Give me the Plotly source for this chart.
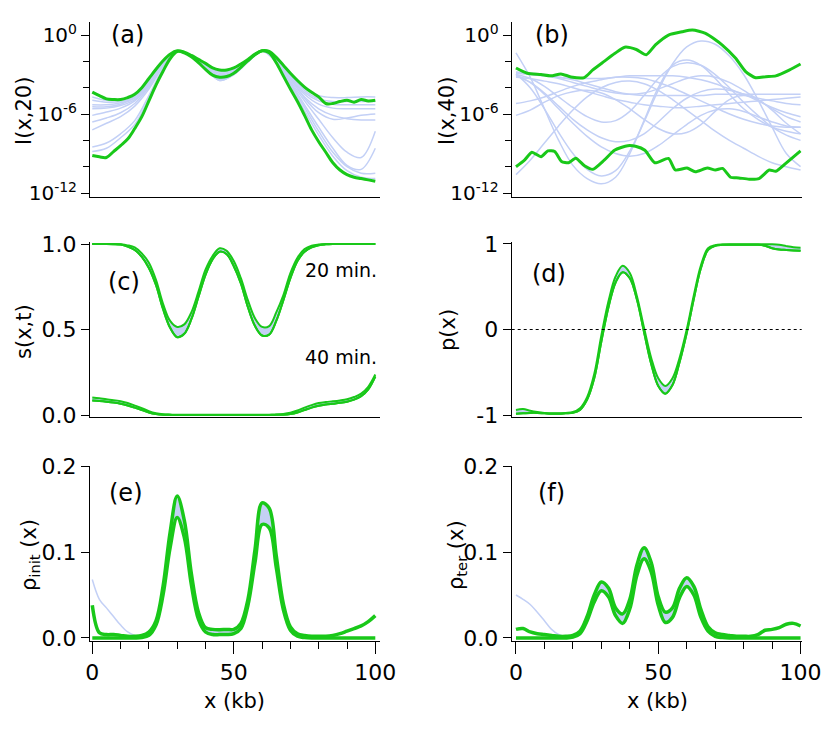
import plotly.graph_objects as go

# ---------------- data ----------------
X5 = [0, 5, 10, 15, 20, 25, 30, 35, 40, 45, 50, 55, 60, 65, 70, 75, 80, 85, 90, 95, 100]
X25 = [0, 2.5, 5, 7.5, 10, 12.5, 15, 17.5, 20, 22.5, 25, 27.5, 30, 32.5, 35, 37.5, 40, 42.5,
       45, 47.5, 50, 52.5, 55, 57.5, 60, 62.5, 65, 67.5, 70, 72.5, 75, 77.5, 80, 82.5, 85,
       87.5, 90, 92.5, 95, 97.5, 100]

# (a) I(x,20): log10 values
a_green_hi = [-4.33, -4.6, -4.85, -4.9, -4.9, -4.75, -4.5, -4.0, -3.3, -2.6, -1.95, -1.45, -1.2,
              -1.3, -1.55, -1.85, -2.15, -2.5, -2.65, -2.65, -2.5, -2.2, -1.85, -1.45, -1.2, -1.25,
              -1.7, -2.3, -2.9, -3.45, -3.95, -4.35, -4.7, -5.2, -5.2, -5.05, -4.95, -5.1, -4.9,
              -5.0, -4.95]
a_green_lo = [-9.15, -9.25, -9.3, -8.85, -8.4, -7.9, -7.1, -6.2, -5.0, -3.8, -2.75, -1.8, -1.25,
              -1.35, -1.65, -2.1, -2.6, -3.05, -3.2, -3.15, -2.9, -2.45, -1.95, -1.5, -1.2, -1.35,
              -2.1, -3.1, -4.1, -5.05, -6.1, -7.2, -8.1, -8.9, -9.7, -10.25, -10.6, -10.8, -10.9,
              -11.0, -11.1]
a_blue = [
    [-4.7, -4.95, -4.95, -4.55, -3.45, -2.05, -1.2, -1.55, -2.2, -2.7, -2.55, -1.9, -1.2, -1.75, -3.0, -4.05, -4.6, -4.75, -4.75, -4.7, -4.7],
    [-4.95, -5.1, -5.05, -4.65, -3.55, -2.1, -1.2, -1.58, -2.25, -2.8, -2.6, -1.92, -1.2, -1.8, -3.1, -4.2, -4.85, -5.05, -5.05, -5.05, -5.05],
    [-5.3, -5.3, -5.15, -4.75, -3.65, -2.15, -1.2, -1.6, -2.3, -2.9, -2.68, -1.95, -1.2, -1.8, -3.15, -4.35, -5.0, -5.25, -5.3, -5.3, -5.3],
    [-5.45, -5.45, -5.25, -4.8, -3.7, -2.2, -1.2, -1.6, -2.35, -3.0, -2.75, -1.95, -1.2, -1.85, -3.25, -4.5, -5.25, -5.55, -5.6, -5.6, -5.6],
    [-5.6, -5.55, -5.35, -4.9, -3.8, -2.25, -1.22, -1.62, -2.4, -3.1, -2.8, -1.97, -1.2, -1.9, -3.35, -4.7, -5.6, -6.1, -6.35, -6.45, -6.45],
    [-6.1, -5.85, -5.55, -5.0, -3.85, -2.3, -1.22, -1.62, -2.45, -3.2, -2.85, -2.0, -1.2, -1.95, -3.5, -5.0, -6.4, -7.8, -8.9, -9.3, -7.3],
    [-6.6, -6.3, -5.9, -5.2, -3.95, -2.35, -1.23, -1.65, -2.5, -3.3, -2.9, -2.0, -1.22, -2.0, -3.6, -5.3, -7.0, -8.6, -9.9, -10.2, -8.6],
    [-7.2, -6.7, -6.2, -5.4, -4.1, -2.4, -1.23, -1.65, -2.55, -3.4, -2.95, -2.02, -1.22, -2.05, -3.7, -5.5, -7.3, -8.9, -10.0, -10.5, -10.5],
    [-8.5, -8.2, -7.5, -6.5, -4.6, -2.55, -1.25, -1.65, -2.55, -3.45, -3.0, -2.05, -1.22, -2.1, -3.85, -5.75, -7.6, -9.2, -10.3, -10.8, -10.9],
    [-8.85, -8.6, -7.8, -6.8, -4.8, -2.6, -1.25, -1.65, -2.55, -3.45, -3.0, -2.05, -1.22, -1.9, -3.3, -4.8, -5.9, -6.4, -6.3, -6.1, -6.0],
]

# (b) I(x,40): log10 values
b_hi_x = [0, 4, 8.8, 12.3, 15.8, 19.3, 24, 27, 31, 34.8, 38.2, 42.3, 45.8, 49, 53.6, 58.4,
          62, 66.6, 72.5, 77.2, 80.7, 84.2, 87.8, 91.3, 96, 100]
b_hi = [-2.5, -2.9, -3.0, -3.1, -2.95, -3.18, -3.23, -2.65, -2.0, -1.39, -0.92, -1.1, -1.5,
        -0.75, 0.0, 0.25, 0.38, 0.13, -0.76, -1.77, -2.78, -3.24, -3.16, -3.1, -2.66, -2.2]
b_lo_x = [0, 3, 5.6, 8.8, 11.2, 13.6, 16, 18.5, 21, 24.2, 27, 31, 34.6, 39.3, 42, 45.3,
          48.8, 53.6, 56, 60.1, 63, 67.2, 70.1, 72.6, 75.4, 78.3, 81.9, 85.4, 89, 91.3,
          94.8, 100]
b_lo = [-10.0, -9.5, -8.9, -9.24, -8.8, -8.85, -9.6, -9.7, -9.35, -9.95, -10.2, -9.5, -8.75,
        -8.4, -8.45, -8.75, -9.7, -9.37, -10.25, -10.1, -10.38, -10.1, -10.25, -10.13, -10.8,
        -10.85, -10.95, -10.9, -10.25, -10.35, -9.75, -8.8]
b_blue = [
    [-1.35, -3.2, -5.6, -8.0, -9.9, -10.9, -11.3, -10.8, -9.0, -6.5, -4.0, -2.3, -1.9, -2.3, -3.3, -4.5, -5.6, -6.4, -7.0, -7.3, -7.5],
    [-2.8, -2.9, -3.0, -3.2, -3.4, -3.7, -4.0, -4.3, -4.5, -4.6, -4.6, -4.6, -4.6, -4.6, -4.5, -4.5, -4.5, -4.5, -4.5, -4.5, -4.5],
    [-2.9, -3.0, -3.1, -3.2, -3.3, -3.3, -3.3, -3.2, -3.1, -3.1, -3.1, -3.1, -3.2, -3.4, -3.7, -4.1, -4.5, -4.8, -5.0, -5.2, -5.3],
    [-3.0, -3.3, -3.9, -4.7, -5.5, -6.2, -6.6, -6.5, -5.8, -4.6, -3.3, -2.4, -2.1, -2.3, -3.0, -4.0, -5.1, -6.1, -7.0, -7.6, -8.0],
    [-3.1, -3.6, -4.4, -5.4, -6.4, -7.2, -7.8, -8.1, -8.0, -7.5, -6.6, -5.6, -4.8, -4.3, -4.1, -4.2, -4.5, -5.0, -5.5, -5.9, -6.2],
    [-3.2, -3.3, -3.5, -3.7, -4.0, -4.3, -4.6, -4.9, -5.1, -5.3, -5.4, -5.5, -5.5, -5.4, -5.3, -5.2, -5.1, -5.0, -4.9, -4.8, -4.7],
    [-5.2, -5.0, -4.7, -4.3, -3.9, -3.6, -3.4, -3.2, -3.2, -3.3, -3.6, -4.0, -4.5, -5.0, -5.5, -6.0, -6.4, -6.7, -6.9, -7.0, -7.0],
    [-6.1, -5.7, -5.1, -4.6, -4.3, -4.2, -4.4, -4.9, -5.6, -6.4, -7.1, -7.5, -7.4, -6.8, -5.8, -4.9, -4.6, -4.9, -5.7, -6.7, -7.5],
    [-10.6, -9.5, -8.2, -6.9, -5.7, -4.7, -4.0, -3.6, -3.5, -3.7, -4.2, -4.9, -5.7, -6.5, -7.3, -8.0, -8.6, -9.2, -9.7, -10.0, -10.25],
    [-2.95, -4.0, -5.6, -7.4, -9.0, -10.2, -10.7, -10.3, -8.8, -6.6, -4.2, -2.2, -0.9, -0.45, -0.7, -1.6, -3.0, -4.9, -7.0, -9.0, -10.0],
    [-3.05, -3.6, -4.5, -5.6, -6.7, -7.7, -8.5, -9.0, -9.2, -9.0, -8.4, -7.6, -6.8, -6.1, -5.7, -5.6, -5.8, -6.2, -6.6, -6.9, -7.0],
    [-2.85, -2.95, -3.1, -3.3, -3.6, -3.9, -4.2, -4.4, -4.5, -4.4, -4.1, -3.7, -3.3, -3.1, -3.2, -3.6, -4.2, -4.9, -5.6, -6.2, -6.6],
]

# (c) s(x,t)
c20_hi = [1.0, 1.0, 1.0, 1.0, 0.998, 0.992, 0.98, 0.945, 0.89, 0.79, 0.65, 0.55, 0.515, 0.53,
          0.6, 0.72, 0.85, 0.93, 0.975, 0.96, 0.9, 0.8, 0.67, 0.565, 0.515, 0.52, 0.6, 0.7,
          0.83, 0.92, 0.97, 0.99, 0.997, 1.0, 1.0, 1.0, 1.0, 1.0, 1.0, 1.0, 1.0]
c20_lo = [1.0, 1.0, 1.0, 0.999, 0.997, 0.985, 0.965, 0.925, 0.86, 0.76, 0.62, 0.51, 0.455,
          0.475, 0.56, 0.69, 0.82, 0.91, 0.955, 0.94, 0.87, 0.77, 0.63, 0.52, 0.465, 0.47,
          0.55, 0.67, 0.8, 0.9, 0.955, 0.98, 0.993, 0.998, 1.0, 1.0, 1.0, 1.0, 1.0, 1.0, 1.0]
c40_hi = [0.103, 0.098, 0.092, 0.087, 0.08, 0.07, 0.055, 0.04, 0.022, 0.01, 0.004, 0.002,
          0.001, 0.001, 0.001, 0.001, 0.001, 0.001, 0.001, 0.001, 0.001, 0.001, 0.001, 0.001,
          0.001, 0.002, 0.003, 0.006, 0.013, 0.026, 0.043, 0.058, 0.07, 0.076, 0.08, 0.085,
          0.092, 0.105, 0.125, 0.165, 0.237]
c40_lo = [0.085, 0.082, 0.078, 0.073, 0.066, 0.056, 0.043, 0.029, 0.015, 0.006, 0.002, 0.001,
          0.0, 0.0, 0.0, 0.0, 0.0, 0.0, 0.0, 0.0, 0.0, 0.0, 0.0, 0.0, 0.0, 0.0, 0.001, 0.002,
          0.006, 0.015, 0.029, 0.043, 0.054, 0.061, 0.066, 0.071, 0.078, 0.09, 0.11, 0.15, 0.225]

# (d) p(x)
d_hi = [-0.94, -0.93, -0.95, -0.965, -0.975, -0.98, -0.98, -0.975, -0.965, -0.92, -0.79,
        -0.52, -0.07, 0.33, 0.62, 0.745, 0.66, 0.39, 0.02, -0.33, -0.57, -0.66, -0.57, -0.33,
        0.0, 0.4, 0.75, 0.95, 0.985, 0.995, 0.998, 0.998, 0.998, 0.998, 0.998, 0.998, 0.996,
        0.99, 0.975, 0.962, 0.955]
d_lo = [-0.985, -0.98, -0.975, -0.975, -0.98, -0.985, -0.985, -0.98, -0.975, -0.94, -0.82,
        -0.57, -0.14, 0.26, 0.55, 0.67, 0.6, 0.35, -0.03, -0.4, -0.66, -0.75, -0.65, -0.38,
        -0.04, 0.36, 0.72, 0.93, 0.98, 0.99, 0.99, 0.99, 0.99, 0.99, 0.99, 0.98, 0.95, 0.935,
        0.93, 0.925, 0.92]

# (e) rho_init(x)
e_hi = [0.038, 0.006, 0.004, 0.004, 0.003, 0.002, 0.002, 0.003, 0.007, 0.02, 0.06, 0.123,
        0.165, 0.137, 0.075, 0.03, 0.012, 0.01, 0.0097, 0.01, 0.01, 0.017, 0.045, 0.103, 0.157,
        0.151, 0.096, 0.04, 0.013, 0.005, 0.003, 0.002, 0.002, 0.002, 0.003, 0.005, 0.008,
        0.011, 0.014, 0.019, 0.026]
e_lo = [0.0, 0.0, 0.0, 0.0, 0.0, 0.0, 0.0, 0.0005, 0.003, 0.015, 0.05, 0.105, 0.14, 0.117,
        0.062, 0.022, 0.007, 0.004, 0.004, 0.004, 0.005, 0.011, 0.038, 0.088, 0.132, 0.128,
        0.082, 0.033, 0.009, 0.002, 0.0005, 0.0, 0.0, 0.0, 0.0, 0.0, 0.0, 0.0, 0.0, 0.0, 0.0]
e_blue_x = [0, 2.5, 5, 7.5, 10, 12.5, 15, 17.5]
e_blue = [0.068, 0.045, 0.035, 0.025, 0.015, 0.007, 0.003, 0.002]

# (f) rho_ter(x)
f_hi = [0.01, 0.011, 0.007, 0.005, 0.004, 0.003, 0.002, 0.002, 0.003, 0.008, 0.025, 0.05,
        0.065, 0.058, 0.035, 0.028, 0.045, 0.085, 0.105, 0.088, 0.048, 0.03, 0.035, 0.058,
        0.07, 0.06, 0.033, 0.013, 0.006, 0.004, 0.003, 0.002, 0.002, 0.002, 0.004, 0.009,
        0.01, 0.012, 0.016, 0.017, 0.014]
f_lo = [0.0, 0.0, 0.0, 0.0, 0.0, 0.0, 0.0, 0.0, 0.001, 0.005, 0.02, 0.042, 0.055, 0.048,
        0.026, 0.017, 0.034, 0.073, 0.092, 0.077, 0.038, 0.018, 0.024, 0.047, 0.06, 0.05,
        0.024, 0.008, 0.002, 0.0005, 0.0, 0.0, 0.0, 0.0, 0.0, 0.0, 0.0, 0.0, 0.0, 0.0, 0.0]
f_blue_x = [0, 2.5, 5, 7.5, 10, 12.5, 15, 17.5]
f_blue = [0.05, 0.045, 0.039, 0.03, 0.02, 0.01, 0.004, 0.002]

LOG_TICKS = [1e-12, 1e-6, 1]
LOG_TEXT = ["10<sup>-12</sup>", "10<sup>-6</sup>", "10<sup>0</sup>"]
LOG_MINOR = [1e-10, 1e-8, 1e-4, 1e-2]

# ---------------- style ----------------
GREEN = "#19c819"
LBLUE = "#c3d0f6"
FILL = "rgba(196,208,244,1)"
FONT = "DejaVu Sans"
TICKSIZE = 22
LOGTICKSIZE = 20

fig = go.Figure()


def line(x, y, ax, color, width, fill=None, smoothing=1.0):
    fig.add_trace(go.Scatter(
        x=x, y=y, mode="lines", xaxis="x" + ax, yaxis="y" + ax,
        line=dict(color=color, width=width, shape="spline", smoothing=smoothing),
        fill=fill, fillcolor=FILL if fill else None, hoverinfo="skip"))


def pow10(v):
    return [10 ** t for t in v]


# (a)
for c in a_blue:
    line(X5, pow10(c), "1", LBLUE, 1.5)
line(X25, pow10(a_green_hi), "1", GREEN, 3)
line(X25, pow10(a_green_lo), "1", GREEN, 3)

# (b)
for c in b_blue:
    line(X5, pow10(c), "2", LBLUE, 1.5)
line(b_hi_x, pow10(b_hi), "2", GREEN, 3, smoothing=0.6)
line(b_lo_x, pow10(b_lo), "2", GREEN, 3, smoothing=0.6)

# (c)
line(X25, c20_lo, "3", GREEN, 2)
line(X25, c20_hi, "3", GREEN, 2, fill="tonexty")
line(X25, c20_lo, "3", GREEN, 2)
line(X25, c40_lo, "3", GREEN, 2)
line(X25, c40_hi, "3", GREEN, 2, fill="tonexty")
line(X25, c40_lo, "3", GREEN, 2)

# (d)
line(X25, d_lo, "4", GREEN, 2)
line(X25, d_hi, "4", GREEN, 2, fill="tonexty")
line(X25, d_lo, "4", GREEN, 2)

# (e)
line(e_blue_x, e_blue, "5", LBLUE, 1.5)
i0, i1 = X25.index(15), X25.index(80) + 1
line(X25[i0:i1], e_lo[i0:i1], "5", GREEN, 0.1)
line(X25[i0:i1], e_hi[i0:i1], "5", GREEN, 0.1, fill="tonexty")
line(X25, e_hi, "5", GREEN, 3.5)
line(X25, e_lo, "5", GREEN, 3.5)

# (f)
line(f_blue_x, f_blue, "6", LBLUE, 1.5)
j0, j1 = X25.index(17.5), X25.index(77.5) + 1
line(X25[j0:j1], f_lo[j0:j1], "6", GREEN, 0.1)
line(X25[j0:j1], f_hi[j0:j1], "6", GREEN, 0.1, fill="tonexty")
line(X25, f_hi, "6", GREEN, 3.5)
line(X25, f_lo, "6", GREEN, 3.5)

# ---------------- axes ----------------
# page body has an 8px margin: figure is 814x715 so the page is 830x731
OFF = 8
W, H = 830 - 2 * OFF, 731 - 2 * OFF


def fx(px):
    return (px - OFF) / W


def fy(py):
    return 1 - (py - OFF) / H


XL = [fx(90), fx(380)]
XR = [fx(511.7), fx(801.7)]
R1 = [fy(197), fy(22)]
R2 = [fy(417), fy(241.5)]
R3 = [fy(641), fy(466)]
XRANGE_L = [-0.81, 101.66]
XRANGE_R = [-1.5, 100.4]

tickfont = dict(family=FONT, size=TICKSIZE, color="black")
logtickfont = dict(family=FONT, size=LOGTICKSIZE, color="black")


def xaxis(dom, rng, anchor, bottom):
    d = dict(domain=dom, range=rng, anchor=anchor, showline=True, linecolor="black",
             linewidth=1, showgrid=False, zeroline=False, fixedrange=True, automargin=False)
    if bottom:
        d.update(ticks="outside", tickvals=[0, 50, 100], ticklen=12, tickwidth=1,
                 tickcolor="black", tickfont=tickfont,
                 minor=dict(ticks="outside", dtick=10, tick0=0, ticklen=7,
                            tickcolor="black", tickwidth=1))
    else:
        d.update(ticks="", showticklabels=False)
    return d


def yaxis(dom, rng, anchor, tickvals, ticktext, log=False, minor=None):
    d = dict(domain=dom, range=rng, anchor=anchor, showline=True, linecolor="black",
             linewidth=1, showgrid=False, zeroline=False, ticks="outside", ticklen=8,
             tickwidth=1, tickcolor="black", tickvals=tickvals, ticktext=ticktext,
             tickfont=logtickfont if log else tickfont, fixedrange=True, automargin=False)
    if log:
        d["type"] = "log"
    if minor:
        d["minor"] = dict(ticks="outside", tickmode="array", tickvals=minor, ticklen=6,
                          tickcolor="black", tickwidth=1)
    return d


fig.update_layout(
    xaxis1=xaxis(XL, XRANGE_L, "y1", False),
    xaxis2=xaxis(XR, XRANGE_R, "y2", False),
    xaxis3=xaxis(XL, XRANGE_L, "y3", False),
    xaxis4=xaxis(XR, XRANGE_R, "y4", False),
    xaxis5=xaxis(XL, XRANGE_L, "y5", True),
    xaxis6=xaxis(XR, XRANGE_R, "y6", True),
    yaxis1=yaxis(R1, [-12.3, 0.99], "x1", LOG_TICKS, LOG_TEXT, log=True, minor=LOG_MINOR),
    yaxis2=yaxis(R1, [-12.3, 0.99], "x2", LOG_TICKS, LOG_TEXT, log=True, minor=LOG_MINOR),
    yaxis3=yaxis(R2, [-0.0117, 1.0146], "x3", [0, 0.5, 1], ["0.0", "0.5", "1.0"]),
    yaxis4=yaxis(R2, [-1.023, 1.029], "x4", [-1, 0, 1], ["-1", "0", "1"]),
    yaxis5=yaxis(R3, [-0.0035, 0.2], "x5", [0, 0.1, 0.2], ["0.0", "0.1", "0.2"]),
    yaxis6=yaxis(R3, [-0.0035, 0.2], "x6", [0, 0.1, 0.2], ["0.0", "0.1", "0.2"]),
)

# dotted zero line in (d)
fig.add_shape(type="line", xref="x4 domain", yref="y4", x0=0, x1=1, y0=0, y1=0,
              line=dict(color="black", width=1, dash="dot"))


def ann(text, px, py, size, angle=0):
    fig.add_annotation(text=text, x=fx(px), y=fy(py), xref="paper", yref="paper",
                       showarrow=False, textangle=angle, xanchor="center", yanchor="middle",
                       font=dict(family=FONT, size=size, color="black"))


# panel labels
ann("(a)", 127.5, 35, 24)
ann("(b)", 552, 35, 24)
ann("(c)", 123.5, 282, 24)
ann("(d)", 549, 274, 24)
ann("(e)", 126, 493, 24)
ann("(f)", 551, 493, 24)
ann("20 min.", 341, 270, 19)
ann("40 min.", 341, 357, 19)

# axis titles
ann("I(x,20)", 24, 111, 21, -90)
ann("I(x,40)", 447, 111, 21, -90)
ann("s(x,t)", 24, 332, 21, -90)
ann("p(x)", 448, 330, 21, -90)
ann("ρ<sub>init</sub> (x)", 30, 555, 21, -90)
ann("ρ<sub>ter</sub> (x)", 457, 555, 21, -90)
ann("x (kb)", 234, 701, 21)
ann("x (kb)", 657, 701, 21)

fig.update_layout(width=W, height=H,
                  margin=dict(l=0, r=0, t=0, b=0, pad=0, autoexpand=False),
                  plot_bgcolor="white", paper_bgcolor="white", showlegend=False,
                  font=dict(family=FONT, size=TICKSIZE, color="black"))

fig.write_html("out.html")
